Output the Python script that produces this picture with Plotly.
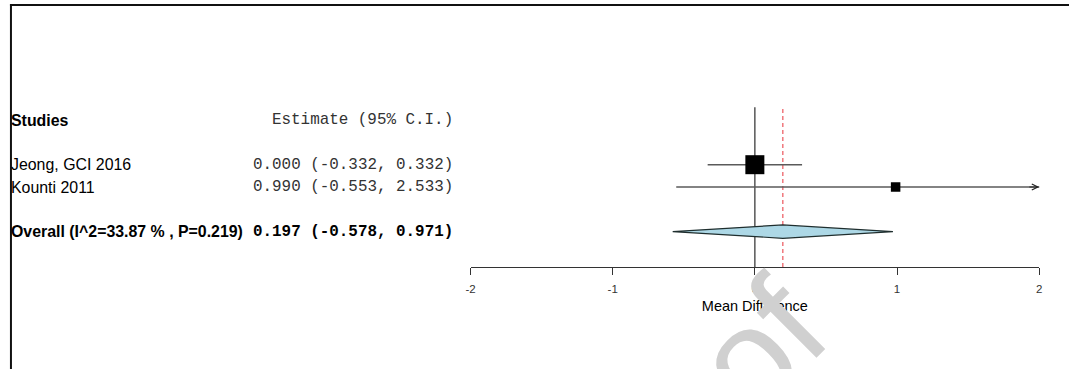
import plotly.graph_objects as go

# ---- data -------------------------------------------------------------
studies = ["Jeong, GCI 2016", "Kounti 2011"]
estimates = [0.000, 0.990]
ci_lower = [-0.332, -0.553]
ci_upper = [0.332, 2.533]

overall_label = "Overall (I^2=33.87 % , P=0.219)"
overall_est = 0.197
overall_lower = -0.578
overall_upper = 0.971

tick_values = [-2, -1, 0, 1, 2]
tick_labels = ["-2", "-1", "0", "1", "2"]
x_title = "Mean Difference"
header_left = "Studies"
header_right = "Estimate (95% C.I.)"
watermark = "Journal Pre-proof"

# ---- layout helpers ---------------------------------------------------
W, H = 1072, 369
X_MIN, X_MAX = -2, 2


def px_x(p):
    return p / W


def px_y(p):
    return 1 - p / H


# row numbers (top to bottom): header, studies, overall
header_row = 4
study_rows = [2, 1]
overall_row = -1
row_px = 22.3          # pixels per row
row1_px = 187.0        # pixel y of row 1
y_top = 1 + row1_px / row_px
y_bot = 1 - (H - row1_px) / row_px
axis_row = 1 - (267 - row1_px) / row_px
line_top_row = 1 + (row1_px - 107.3) / row_px

SANS = "Arial, Liberation Sans, sans-serif"
MONO = "Courier New, Liberation Mono, monospace"
FS = 15.9
FM = 15.9

fig = go.Figure()

# confidence interval whiskers
for lo, hi, r in zip(ci_lower, ci_upper, study_rows):
    fig.add_trace(go.Scatter(
        x=[lo, hi], y=[r, r], mode="lines",
        line=dict(color="#5a5a5a", width=1.4),
        hoverinfo="skip", showlegend=False))

# study boxes sized by inverse-variance weight
se = [(hi - lo) / (2 * 1.96) for lo, hi in zip(ci_lower, ci_upper)]
w = [1 / s ** 2 for s in se]
wmin, wmax = min(w), max(w)
sizes = [9.5 + 9.5 * (wi - wmin) / (wmax - wmin) for wi in w]
fig.add_trace(go.Scatter(
    x=estimates, y=study_rows, mode="markers",
    marker=dict(symbol="square", size=sizes, color="black", opacity=1,
                line=dict(width=0)),
    hoverinfo="skip", showlegend=False))

# summary diamond
half = 0.3
fig.add_trace(go.Scatter(
    x=[overall_lower, overall_est, overall_upper, overall_est, overall_lower],
    y=[overall_row, overall_row + half, overall_row, overall_row - half, overall_row],
    mode="lines", fill="toself", fillcolor="#ADD8E6",
    line=dict(color="#1f2e2e", width=1.2),
    hoverinfo="skip", showlegend=False))

shapes = [
    # null line
    dict(type="line", xref="x", yref="y", x0=0, x1=0, layer="below",
         y0=axis_row, y1=line_top_row, line=dict(color="#4a4a4a", width=1.4)),
    # pooled estimate
    dict(type="line", xref="x", yref="y", x0=overall_est, x1=overall_est,
         y0=axis_row, y1=line_top_row, layer="below",
         line=dict(color="#e8333a", width=1, dash="4px,3px")),
    # frame
    dict(type="line", xref="paper", yref="paper", x0=px_x(5), x1=1,
         y0=px_y(5), y1=px_y(5), line=dict(color="#111", width=2)),
    dict(type="line", xref="paper", yref="paper", x0=px_x(6), x1=px_x(6),
         y0=px_y(4), y1=0, line=dict(color="#111", width=2)),
]

annotations = []


def label(text, row, x, anchor, font):
    annotations.append(dict(
        text=text, xref="paper", yref="y", x=x, y=row,
        xanchor=anchor, yanchor="middle", showarrow=False, font=font))


left_x = px_x(4)
right_x = px_x(453)
label(f"<b>{header_left}</b>", header_row, left_x, "left",
      dict(family=SANS, size=FS, color="black"))
label(header_right, header_row, right_x, "right",
      dict(family=MONO, size=FM, color="#333"))
for name, est, lo, hi, r in zip(studies, estimates, ci_lower, ci_upper, study_rows):
    label(name, r, left_x, "left", dict(family=SANS, size=FS, color="black"))
    label(f"{est:.3f} ({lo:.3f}, {hi:.3f})", r, right_x, "right",
          dict(family=MONO, size=FM, color="#333"))
label(f"<b>{overall_label}</b>", overall_row, left_x, "left",
      dict(family=SANS, size=FS, color="black"))
label(f"<b>{overall_est:.3f} ({overall_lower:.3f}, {overall_upper:.3f})</b>",
      overall_row, right_x, "right", dict(family=MONO, size=FM, color="black"))

# arrowhead where an interval runs past the axis
for lo, hi, r in zip(ci_lower, ci_upper, study_rows):
    if hi > X_MAX:
        annotations.append(dict(
            x=X_MAX, y=r, ax=X_MAX - 0.08, ay=r, xref="x", yref="y",
            axref="x", ayref="y", text="", showarrow=True,
            arrowhead=5, arrowsize=1.2, arrowwidth=1, arrowcolor="#222"))

# diagonal watermark
annotations.append(dict(
    text=watermark, xref="paper", yref="paper", x=px_x(417), y=px_y(686),
    xanchor="center", yanchor="middle", showarrow=False, textangle=-45,
    font=dict(family=SANS, size=140, color="#d0d0d0")))

fig.update_layout(
    width=W, height=H,
    margin=dict(l=0, r=0, t=0, b=0),
    paper_bgcolor="white", plot_bgcolor="white",
    showlegend=False,
    shapes=shapes, annotations=annotations,
    xaxis=dict(
        domain=[px_x(469), px_x(1042)], range=[X_MIN, X_MAX],
        anchor="free", position=px_y(267),
        tickmode="array", tickvals=tick_values, ticktext=tick_labels,
        ticks="outside", ticklen=7, tickwidth=1, tickcolor="#333",
        ticklabelstandoff=4,
        showline=True, linecolor="#333", linewidth=1,
        showgrid=False, zeroline=False,
        tickfont=dict(family=SANS, size=11.5, color="#333"),
        title=dict(text=x_title, standoff=7,
                   font=dict(family=SANS, size=14.5, color="black")),
    ),
    yaxis=dict(domain=[0, 1], range=[y_bot, y_top], visible=False,
               showgrid=False, zeroline=False),
)

fig.write_html("out.html")
